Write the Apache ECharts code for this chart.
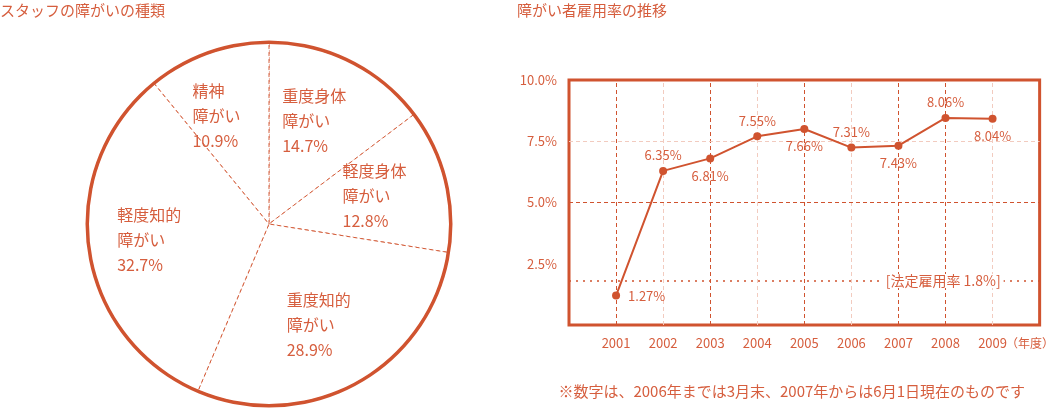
<!DOCTYPE html>
<html>
<head>
<meta charset="utf-8">
<script src="https://cdn.jsdelivr.net/npm/echarts@6/dist/echarts.min.js"></script>
<style>
html,body{margin:0;padding:0;background:#fff;}
#chart{width:1057px;height:408px;}
</style>
</head>
<body>
<div id="chart"></div>
<script>
// ---- data ----
const pieTitle = 'スタッフの障がいの種類';
const pieCategories = ['重度身体障がい', '軽度身体障がい', '重度知的障がい', '軽度知的障がい', '精神障がい'];
const pieValues = [14.7, 12.8, 28.9, 32.7, 10.9];

const lineTitle = '障がい者雇用率の推移';
const years = [2001, 2002, 2003, 2004, 2005, 2006, 2007, 2008, 2009];
const rateValues = [1.2, 6.29, 6.8, 7.7, 8.0, 7.24, 7.32, 8.45, 8.42];
const rateLabels = ['1.27%', '6.35%', '6.81%', '7.55%', '7.66%', '7.31%', '7.43%', '8.06%', '8.04%'];
const yTicks = [2.5, 5.0, 7.5, 10.0];
const legalRate = 1.8;
const legalRateLabel = '[法定雇用率 1.8%]';
const yearUnit = '（年度）';
const footnote = '※数字は、2006年までは3月末、2007年からは6月1日現在のものです';

// ---- style ----
const MAIN = '#d0532f';
const TEXT = '#d65e3e';
const LIGHT = '#f2cbbf';
const FONT = '"Noto Sans CJK JP", "Noto Sans", sans-serif';
const darkGridYears = [2001, 2003, 2005, 2007, 2008];

const chart = echarts.init(document.getElementById('chart'), null, {renderer: 'canvas'});

const vLines = years.map(y => ({
  xAxis: y,
  lineStyle: {color: darkGridYears.includes(y) ? MAIN : LIGHT, type: [4, 3], width: 1}
}));
const hLines = [
  {yAxis: 7.5, lineStyle: {color: LIGHT, type: [4, 3], width: 1}},
  {yAxis: 5.0, lineStyle: {color: MAIN, type: [4, 3], width: 1}},
  {yAxis: legalRate, lineStyle: {color: MAIN, type: [2, 5], width: 1.5},
   label: {show: true, position: 'insideEnd', distance: 36, formatter: legalRateLabel,
           color: TEXT, fontSize: 14, fontFamily: FONT, backgroundColor: '#fff', padding: [0, 3]}}
];

const lineData = years.map((y, i) => ({
  value: [y, rateValues[i]],
  label: {position: i === 0 ? 'right' : (i % 2 ? 'top' : 'bottom'), distance: i === 0 ? 8 : (i % 2 ? 5 : 7)}
}));

const option = {
  animation: false,
  textStyle: {fontFamily: FONT},
  title: [
    {text: pieTitle, left: 0, top: 3, padding: 0,
     textStyle: {fontSize: 15, fontWeight: 'normal', color: TEXT, fontFamily: FONT}},
    {text: lineTitle, left: 517, top: 3, padding: 0,
     textStyle: {fontSize: 15, fontWeight: 'normal', color: TEXT, fontFamily: FONT}},
    {text: footnote, right: 32, top: 384, padding: 0,
     textStyle: {fontSize: 15, fontWeight: 'normal', color: TEXT, fontFamily: FONT}}
  ],
  grid: {left: 569, right: 13, top: 80, bottom: 83, show: true, borderColor: MAIN, borderWidth: 3, backgroundColor: 'transparent'},
  xAxis: {
    type: 'value', min: 2000, max: 2010, interval: 1,
    axisLine: {show: false}, axisTick: {show: false}, splitLine: {show: false},
    axisLabel: {
      margin: 12, color: TEXT, fontSize: 13, fontFamily: FONT,
      formatter: v => {
        if (v === years[years.length - 1]) return '{p|}' + v + '{u|' + yearUnit + '}';
        return years.includes(v) ? String(v) : '';
      },
      rich: {
        p: {width: 46},
        u: {fontSize: 12, color: TEXT, fontFamily: FONT, width: 46}
      }
    }
  },
  yAxis: {
    type: 'value', min: 0, max: 10, interval: 2.5,
    axisLine: {show: false}, axisTick: {show: false}, splitLine: {show: false},
    axisLabel: {
      margin: 12, color: TEXT, fontSize: 13, fontFamily: FONT,
      formatter: v => yTicks.includes(v) ? v.toFixed(1) + '%' : ''
    }
  },
  series: [
    {
      type: 'pie', center: [269, 224], radius: [0, 181], startAngle: 90, clockwise: true,
      silent: true, avoidLabelOverlap: false,
      label: {show: false}, labelLine: {show: false},
      itemStyle: {color: '#fff', borderColor: MAIN, borderWidth: 1, borderType: [4, 3], opacity: 0.9},
      data: pieCategories.map((c, i) => ({name: c, value: pieValues[i]})),
      z: 1
    },
    {
      type: 'pie', center: [269, 224], radius: [180, 183.5], silent: true,
      label: {show: false}, labelLine: {show: false},
      itemStyle: {color: MAIN, borderWidth: 0},
      data: [{name: 'outline', value: 1}],
      z: 2
    },
    {
      type: 'pie', center: [269, 224], radius: [0, 224], startAngle: 90, clockwise: true,
      silent: true, avoidLabelOverlap: false,
      itemStyle: {color: 'rgba(0,0,0,0)', borderWidth: 0},
      labelLine: {show: false},
      label: {
        show: true, position: 'inside',
        formatter: p => '{a|' + p.name.replace('障がい', '') + '}\n{a|障がい}\n{a|' + p.value.toFixed(1) + '%}',
        rich: {a: {width: 76, align: 'left', fontSize: 16, lineHeight: 25, color: TEXT, fontFamily: FONT}}
      },
      data: pieCategories.map((c, i) => ({name: c, value: pieValues[i]})),
      z: 3
    },
    {
      type: 'line', data: [], silent: true, z: 1,
      markLine: {silent: true, symbol: 'none', animation: false, label: {show: false},
                 data: vLines.concat(hLines)}
    },
    {
      type: 'line', z: 5,
      data: lineData,
      symbol: 'circle', symbolSize: 8,
      lineStyle: {color: MAIN, width: 2},
      itemStyle: {color: MAIN},
      label: {
        show: true, color: TEXT, fontSize: 13, fontFamily: FONT,
        formatter: p => rateLabels[p.dataIndex]
      }
    }
  ]
};
chart.setOption(option);
</script>
</body>
</html>
